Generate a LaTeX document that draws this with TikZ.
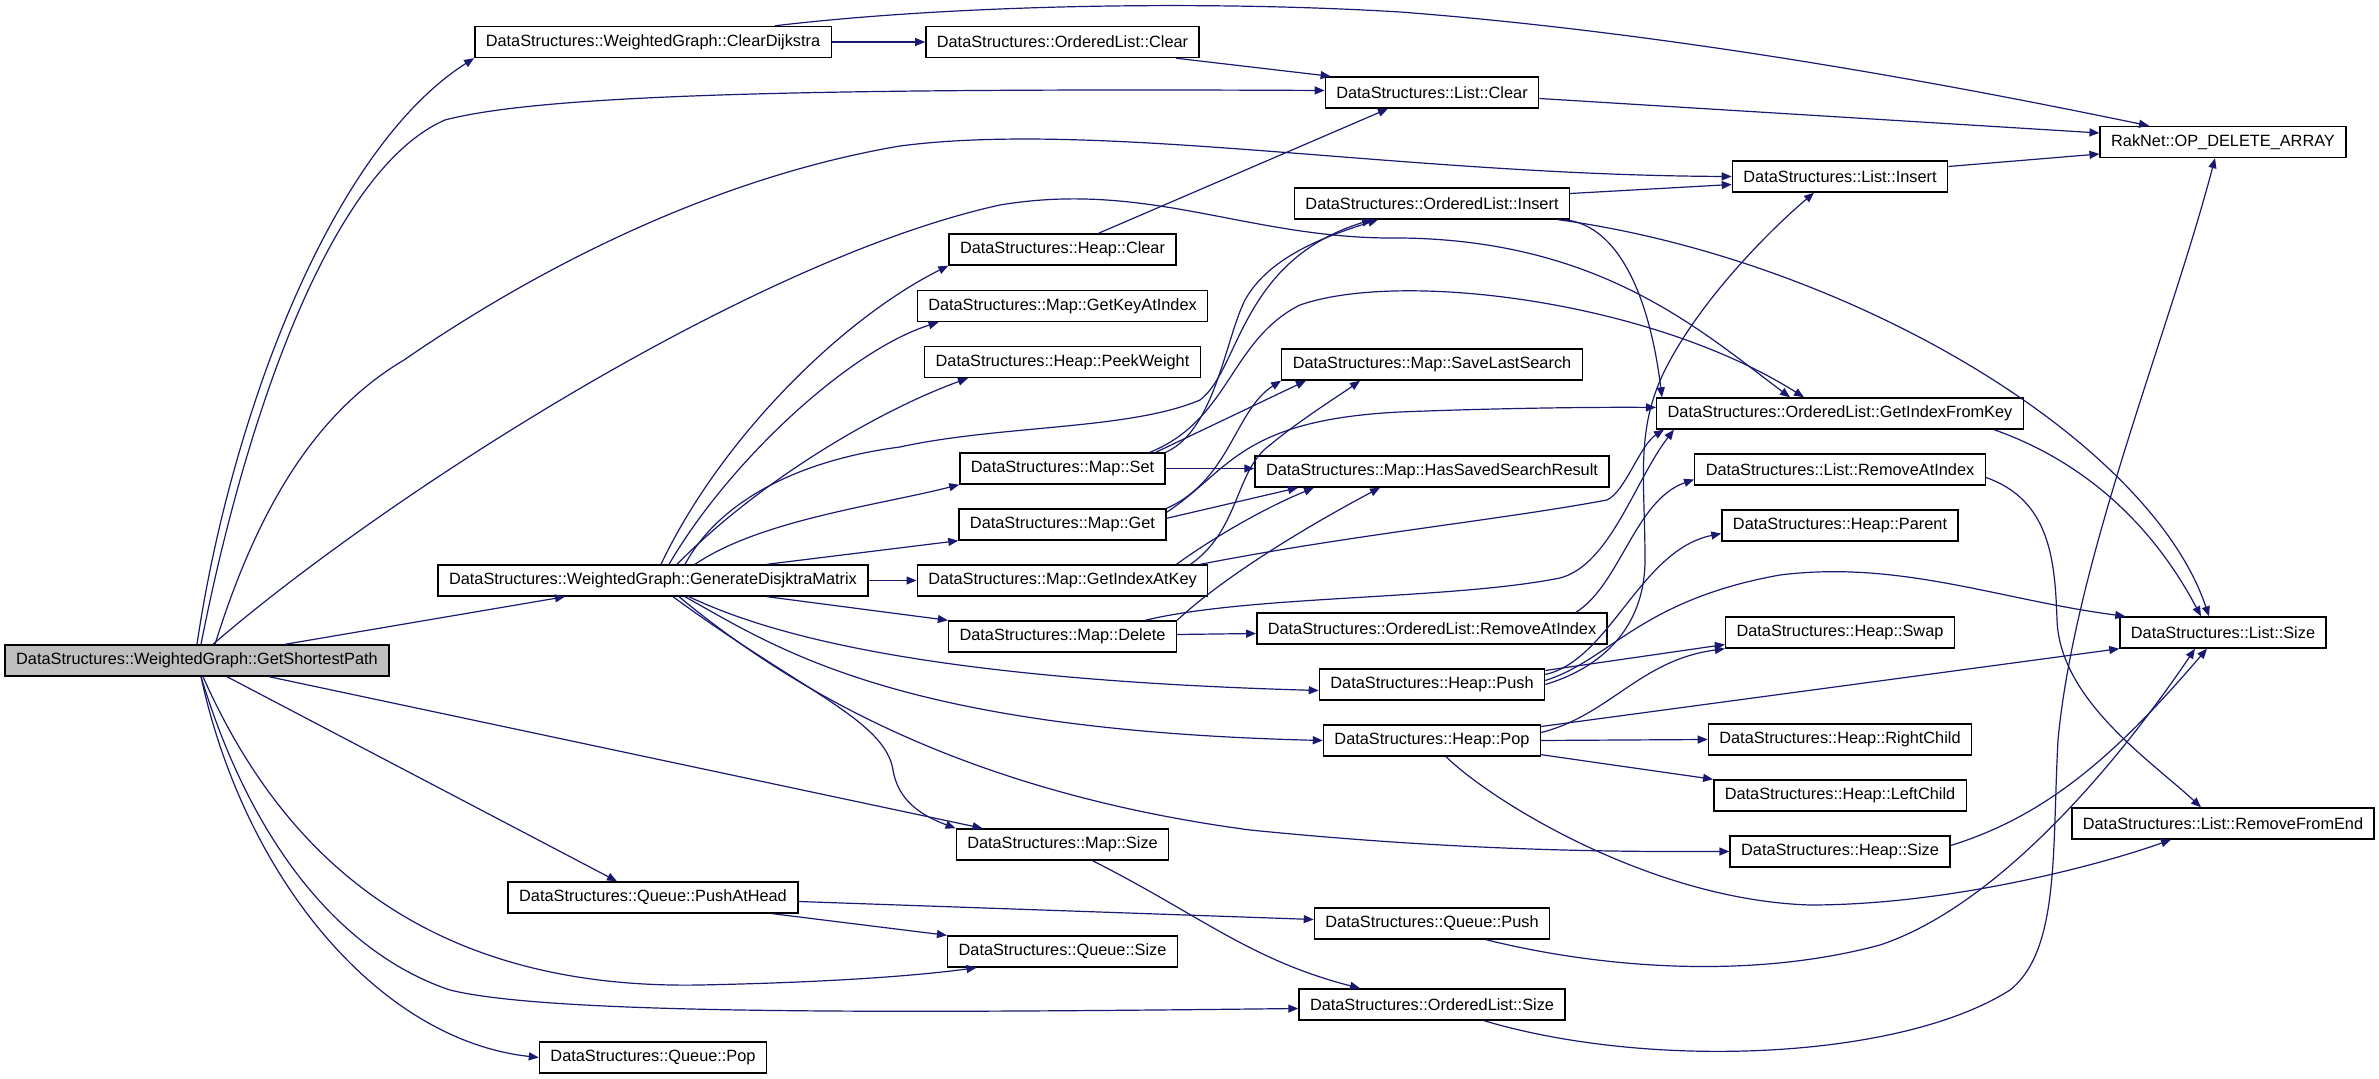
\documentclass[tikz,border=0pt]{standalone}
\usepackage{fontspec}
\setmainfont{Liberation Sans}
\usepackage[HTML]{xcolor}
\usepackage{tikz}
\usetikzlibrary{positioning, arrows, arrows.meta}

\definecolor{callblue}{HTML}{191970}
\definecolor{rootgray}{HTML}{BFBFBF}

\tikzset{
  fnbox/.style={draw=black, line width=0.7pt, fill=white, minimum height=15.5pt,
    inner xsep=5.5pt, inner ysep=0pt, font=\fontsize{8.16}{10}\selectfont},
  call/.style={draw=callblue, line width=0.6pt, -{Triangle[length=5pt,width=4pt]}},
}

\begin{document}
\begin{tikzpicture}[x=0.5pt, y=-0.5pt]
\useasboundingbox (0,0) rectangle (2379,1079);
% root
\node[fnbox, fill=rootgray] (gsp) at (197,660.5) {DataStructures::WeightedGraph::GetShortestPath};
% first column
\node[fnbox] (clrdij) at (653,42) {DataStructures::WeightedGraph::ClearDijkstra};
\node[fnbox] (gdm) at (653,580.5) {DataStructures::WeightedGraph::GenerateDisjktraMatrix};
\node[fnbox] (pushhead) at (653,897.5) {DataStructures::Queue::PushAtHead};
\node[fnbox] (qpop) at (653,1057.5) {DataStructures::Queue::Pop};
% second column
\node[fnbox] (olclear) at (1062.5,42) {DataStructures::OrderedList::Clear};
\node[fnbox] (hclear) at (1062.5,249.5) {DataStructures::Heap::Clear};
\node[fnbox] (getkey) at (1062.5,306) {DataStructures::Map::GetKeyAtIndex};
\node[fnbox] (peek) at (1062.5,362) {DataStructures::Heap::PeekWeight};
\node[fnbox] (mset) at (1062.5,468.5) {DataStructures::Map::Set};
\node[fnbox] (mget) at (1062.5,524.5) {DataStructures::Map::Get};
\node[fnbox] (getidxat) at (1062.5,580.5) {DataStructures::Map::GetIndexAtKey};
\node[fnbox] (mdelete) at (1062.5,636.5) {DataStructures::Map::Delete};
\node[fnbox] (msize) at (1062.5,844.5) {DataStructures::Map::Size};
\node[fnbox] (qsize) at (1062.5,951.5) {DataStructures::Queue::Size};
% third column
\node[fnbox] (lclear) at (1432,92.5) {DataStructures::List::Clear};
\node[fnbox] (olinsert) at (1432,203.5) {DataStructures::OrderedList::Insert};
\node[fnbox] (savelast) at (1432,364.5) {DataStructures::Map::SaveLastSearch};
\node[fnbox] (hassaved) at (1432,471.5) {DataStructures::Map::HasSavedSearchResult};
\node[fnbox] (olremidx) at (1432,628.5) {DataStructures::OrderedList::RemoveAtIndex};
\node[fnbox] (hpush) at (1432,684.5) {DataStructures::Heap::Push};
\node[fnbox] (hpop) at (1432,740.5) {DataStructures::Heap::Pop};
\node[fnbox] (qpush) at (1432,923.5) {DataStructures::Queue::Push};
\node[fnbox] (olsize) at (1432,1004.5) {DataStructures::OrderedList::Size};
% fourth column
\node[fnbox] (linsert) at (1840,176.5) {DataStructures::List::Insert};
\node[fnbox] (getidxkey) at (1840,413.5) {DataStructures::OrderedList::GetIndexFromKey};
\node[fnbox] (lremidx) at (1840,469.5) {DataStructures::List::RemoveAtIndex};
\node[fnbox] (parent) at (1840,525.5) {DataStructures::Heap::Parent};
\node[fnbox] (swap) at (1840,632.5) {DataStructures::Heap::Swap};
\node[fnbox] (rchild) at (1840,739.5) {DataStructures::Heap::RightChild};
\node[fnbox] (lchild) at (1840,795.5) {DataStructures::Heap::LeftChild};
\node[fnbox] (hsize) at (1840,851.5) {DataStructures::Heap::Size};
% fifth column
\node[fnbox] (oparr) at (2223,142) {RakNet::OP\_DELETE\_ARRAY};
\node[fnbox] (lsize) at (2223,632.5) {DataStructures::List::Size};
\node[fnbox] (lremend) at (2223,823.5) {DataStructures::List::RemoveFromEnd};

% calls of GetShortestPath
\draw[call] (gsp.north) .. controls (230,420) and (330,150) .. (clrdij.south west);
\draw[call] ([xshift=2pt]gsp.north) .. controls (245,420) and (330,170) .. (445,120) .. controls (540,95) and (800,88) .. ([yshift=1pt]lclear.west);
\draw[call] ([xshift=9pt]gsp.north) .. controls (260,500) and (320,410) .. (404,360) .. controls (520,280) and (700,180) .. (900,146) .. controls (1100,120) and (1400,175) .. (linsert.west);
\draw[call] ([xshift=8pt]gsp.north) .. controls (380,500) and (750,260) .. (1000,205) .. controls (1150,180) and (1250,240) .. (1400,238) .. controls (1600,240) and (1700,330) .. ([xshift=-25pt]getidxkey.north);
\draw[call] ([xshift=44pt]gsp.north) -- ([xshift=-44pt]gdm.south);
\draw[call] ([xshift=36pt]gsp.south) -- ([xshift=-40pt]msize.north);
\draw[call] ([xshift=15pt]gsp.south) -- ([xshift=-18pt]pushhead.north);
\draw[call] ([xshift=3pt]gsp.south) .. controls (280,850) and (420,990) .. (700,985) .. controls (800,983) and (900,978) .. ([xshift=-43pt]qsize.south);
\draw[call] ([xshift=2pt]gsp.south) .. controls (260,870) and (360,960) .. (450,990) .. controls (550,1015) and (900,1013) .. ([yshift=-2pt]olsize.west);
\draw[call] ([xshift=2pt]gsp.south) .. controls (245,880) and (380,1040) .. (qpop.west);

% ClearDijkstra and the clear chain
\draw[call] (clrdij.east) -- (olclear.west);
\draw[call] ([xshift=61pt]clrdij.north) .. controls (950,5) and (1200,0) .. (1400,12) .. controls (1700,35) and (2000,95) .. ([xshift=-37pt]oparr.north);
\draw[call] ([xshift=-12pt]olclear.south east) -- ([xshift=3pt]lclear.north west);
\draw[call] ([yshift=-3pt]lclear.east) -- ([yshift=4.5pt]oparr.west);
\draw[call] ([xshift=18pt]hclear.north) -- ([xshift=-22pt]lclear.south);
\draw[call] ([yshift=5pt]linsert.east) -- ([yshift=-6pt]oparr.west);

% OrderedList::Insert
\draw[call] ([yshift=5pt]olinsert.east) -- ([yshift=-4pt]linsert.west);
\draw[call] ([xshift=-6pt]olinsert.south east) .. controls (1850,260) and (2150,440) .. ([xshift=-7pt]lsize.north);
\draw[call] ([xshift=-3pt]olinsert.south east) .. controls (1620,225) and (1650,300) .. ([xshift=3pt]getidxkey.north west);

% GenerateDisjktraMatrix
\draw[call] ([xshift=4pt]gdm.north) .. controls (720,440) and (840,320) .. (hclear.south west);
\draw[call] ([xshift=8pt]gdm.north) .. controls (730,460) and (850,350) .. ([xshift=11pt]getkey.south west);
\draw[call] ([xshift=12pt]gdm.north) .. controls (760,480) and (880,410) .. ([xshift=22pt]peek.south west);
\draw[call] ([xshift=16pt]gdm.north) .. controls (720,500) and (800,460) .. (900,447) .. controls (1000,425) and (1130,430) .. (1200,400) .. controls (1240,370) and (1240,260) .. ([xshift=-30pt]olinsert.south);
\draw[call] ([xshift=21pt]gdm.north) .. controls (760,520) and (880,505) .. (mset.south west);
\draw[call] ([xshift=57pt]gdm.north) -- (mget.south west);
\draw[call] (gdm.east) -- (getidxat.west);
\draw[call] ([xshift=57pt]gdm.south) -- (mdelete.north west);
\draw[call] ([xshift=18pt]gdm.south) .. controls (780,640) and (950,680) .. ([yshift=-3pt]hpush.west);
\draw[call] ([xshift=16pt]gdm.south) .. controls (780,650) and (900,730) .. (hpop.west);
\draw[call] ([xshift=13pt]gdm.south) .. controls (780,680) and (950,790) .. (1250,830) .. controls (1450,850) and (1600,852) .. (hsize.west);
\draw[call] ([xshift=10pt]gdm.south) .. controls (800,690) and (885,720) .. (893,770) .. controls (898,800) and (920,815) .. (msize.north west);

% Map::Set
\draw[call] (mset.east) -- ([yshift=1.5pt]hassaved.west);
\draw[call] ([xshift=-5pt]mset.north east) -- ([xshift=-63pt]savelast.south);
\draw[call] (mset.north east) .. controls (1215,430) and (1225,340) .. (1245,300) .. controls (1270,255) and (1330,235) .. ([xshift=-27pt]olinsert.south);
\draw[call] ([xshift=-8pt]mset.north east) .. controls (1230,420) and (1230,340) .. (1300,305) .. controls (1400,270) and (1650,300) .. ([xshift=-18pt]getidxkey.north);

% Map::Get
\draw[call] ([yshift=-5pt]mget.north east) -- ([xshift=-67pt]hassaved.south);
\draw[call] (mget.north east) .. controls (1230,480) and (1235,410) .. (savelast.south west);
\draw[call] ([yshift=-2pt]mget.north east) .. controls (1230,470) and (1240,420) .. (1400,412) .. controls (1500,408) and (1600,407) .. ([yshift=3pt]getidxkey.west);

% Map::GetIndexAtKey
\draw[call] ([xshift=-16pt]getidxat.north east) .. controls (1210,540) and (1260,510) .. ([xshift=-59pt]hassaved.south);
\draw[call] ([xshift=-9pt]getidxat.north east) .. controls (1240,530) and (1235,470) .. (1270,445) .. controls (1300,420) and (1340,395) .. ([xshift=-36pt]savelast.south);
\draw[call] ([xshift=-4pt]getidxat.north east) .. controls (1350,535) and (1500,520) .. (1607,500) .. controls (1625,492) and (1640,445) .. ([xshift=4pt]getidxkey.south west);

% Map::Delete
\draw[call] (mdelete.north east) .. controls (1220,580) and (1300,530) .. ([xshift=-26pt]hassaved.south);
\draw[call] ([xshift=-16pt]mdelete.north east) .. controls (1250,595) and (1450,600) .. (1560,578) .. controls (1610,565) and (1635,480) .. ([xshift=9pt]getidxkey.south west);
\draw[call] ([yshift=1pt]mdelete.east) -- ([yshift=-2.5pt]olremidx.west);

% removal chain
\draw[call] ([xshift=-16pt]olremidx.north east) .. controls (1620,585) and (1635,500) .. ([yshift=-5pt]lremidx.west);
\draw[call] ([yshift=-4pt]lremidx.east) .. controls (2050,500) and (2055,560) .. (2057,620) .. controls (2060,700) and (2150,760) .. ([xshift=-11pt]lremend.north);
\draw[call] ([xshift=-15pt]getidxkey.south east) .. controls (2080,460) and (2150,520) .. ([xshift=-11pt]lsize.north);

% Heap::Push
\draw[call] (hpush.east) .. controls (1610,665) and (1645,620) .. (1645,560) .. controls (1645,480) and (1635,430) .. (1665,370) .. controls (1700,300) and (1770,230) .. ([xshift=-13pt]linsert.south);
\draw[call] ([yshift=5pt]hpush.east) .. controls (1610,660) and (1640,550) .. ([yshift=-4pt]parent.west);
\draw[call] ([yshift=7pt]hpush.east) -- ([yshift=-6pt]swap.west);
\draw[call] ([yshift=2pt]hpush.east) .. controls (1610,660) and (1640,600) .. (1780,575) .. controls (1900,560) and (2000,600) .. ([xshift=3pt]lsize.north west);

% Heap::Pop
\draw[call] ([yshift=4pt]hpop.east) .. controls (1610,715) and (1640,660) .. (swap.south west);
\draw[call] ([yshift=7pt]hpop.east) -- (lsize.south west);
\draw[call] (hpop.east) -- (rchild.west);
\draw[call] ([yshift=1pt]hpop.south east) -- (lchild.north west);
\draw[call] ([xshift=7pt]hpop.south) .. controls (1490,800) and (1650,900) .. (1810,905) .. controls (1950,905) and (2100,865) .. ([xshift=-26pt]lremend.south);

% sizes
\draw[call] ([yshift=3pt]hsize.east) .. controls (2050,815) and (2120,750) .. ([xshift=-8pt]lsize.south);
\draw[call] ([xshift=27pt]qpush.south) .. controls (1600,968) and (1750,980) .. (1880,945) .. controls (2000,905) and (2120,760) .. ([xshift=-14pt]lsize.south);
\draw[call] ([xshift=26pt]olsize.south) .. controls (1650,1070) and (1900,1060) .. (2010,990) .. controls (2060,950) and (2052,850) .. (2058,740) .. controls (2075,560) and (2170,330) .. ([xshift=-4pt]oparr.south);
\draw[call] ([xshift=15pt]msize.south) .. controls (1200,915) and (1250,960) .. ([xshift=-36pt]olsize.north);

% Queue::PushAtHead
\draw[call] ([yshift=-2pt]pushhead.east) -- ([yshift=2pt]qpush.west);
\draw[call] ([xshift=-13pt]pushhead.south east) -- (qsize.north west);
\end{tikzpicture}
\end{document}
